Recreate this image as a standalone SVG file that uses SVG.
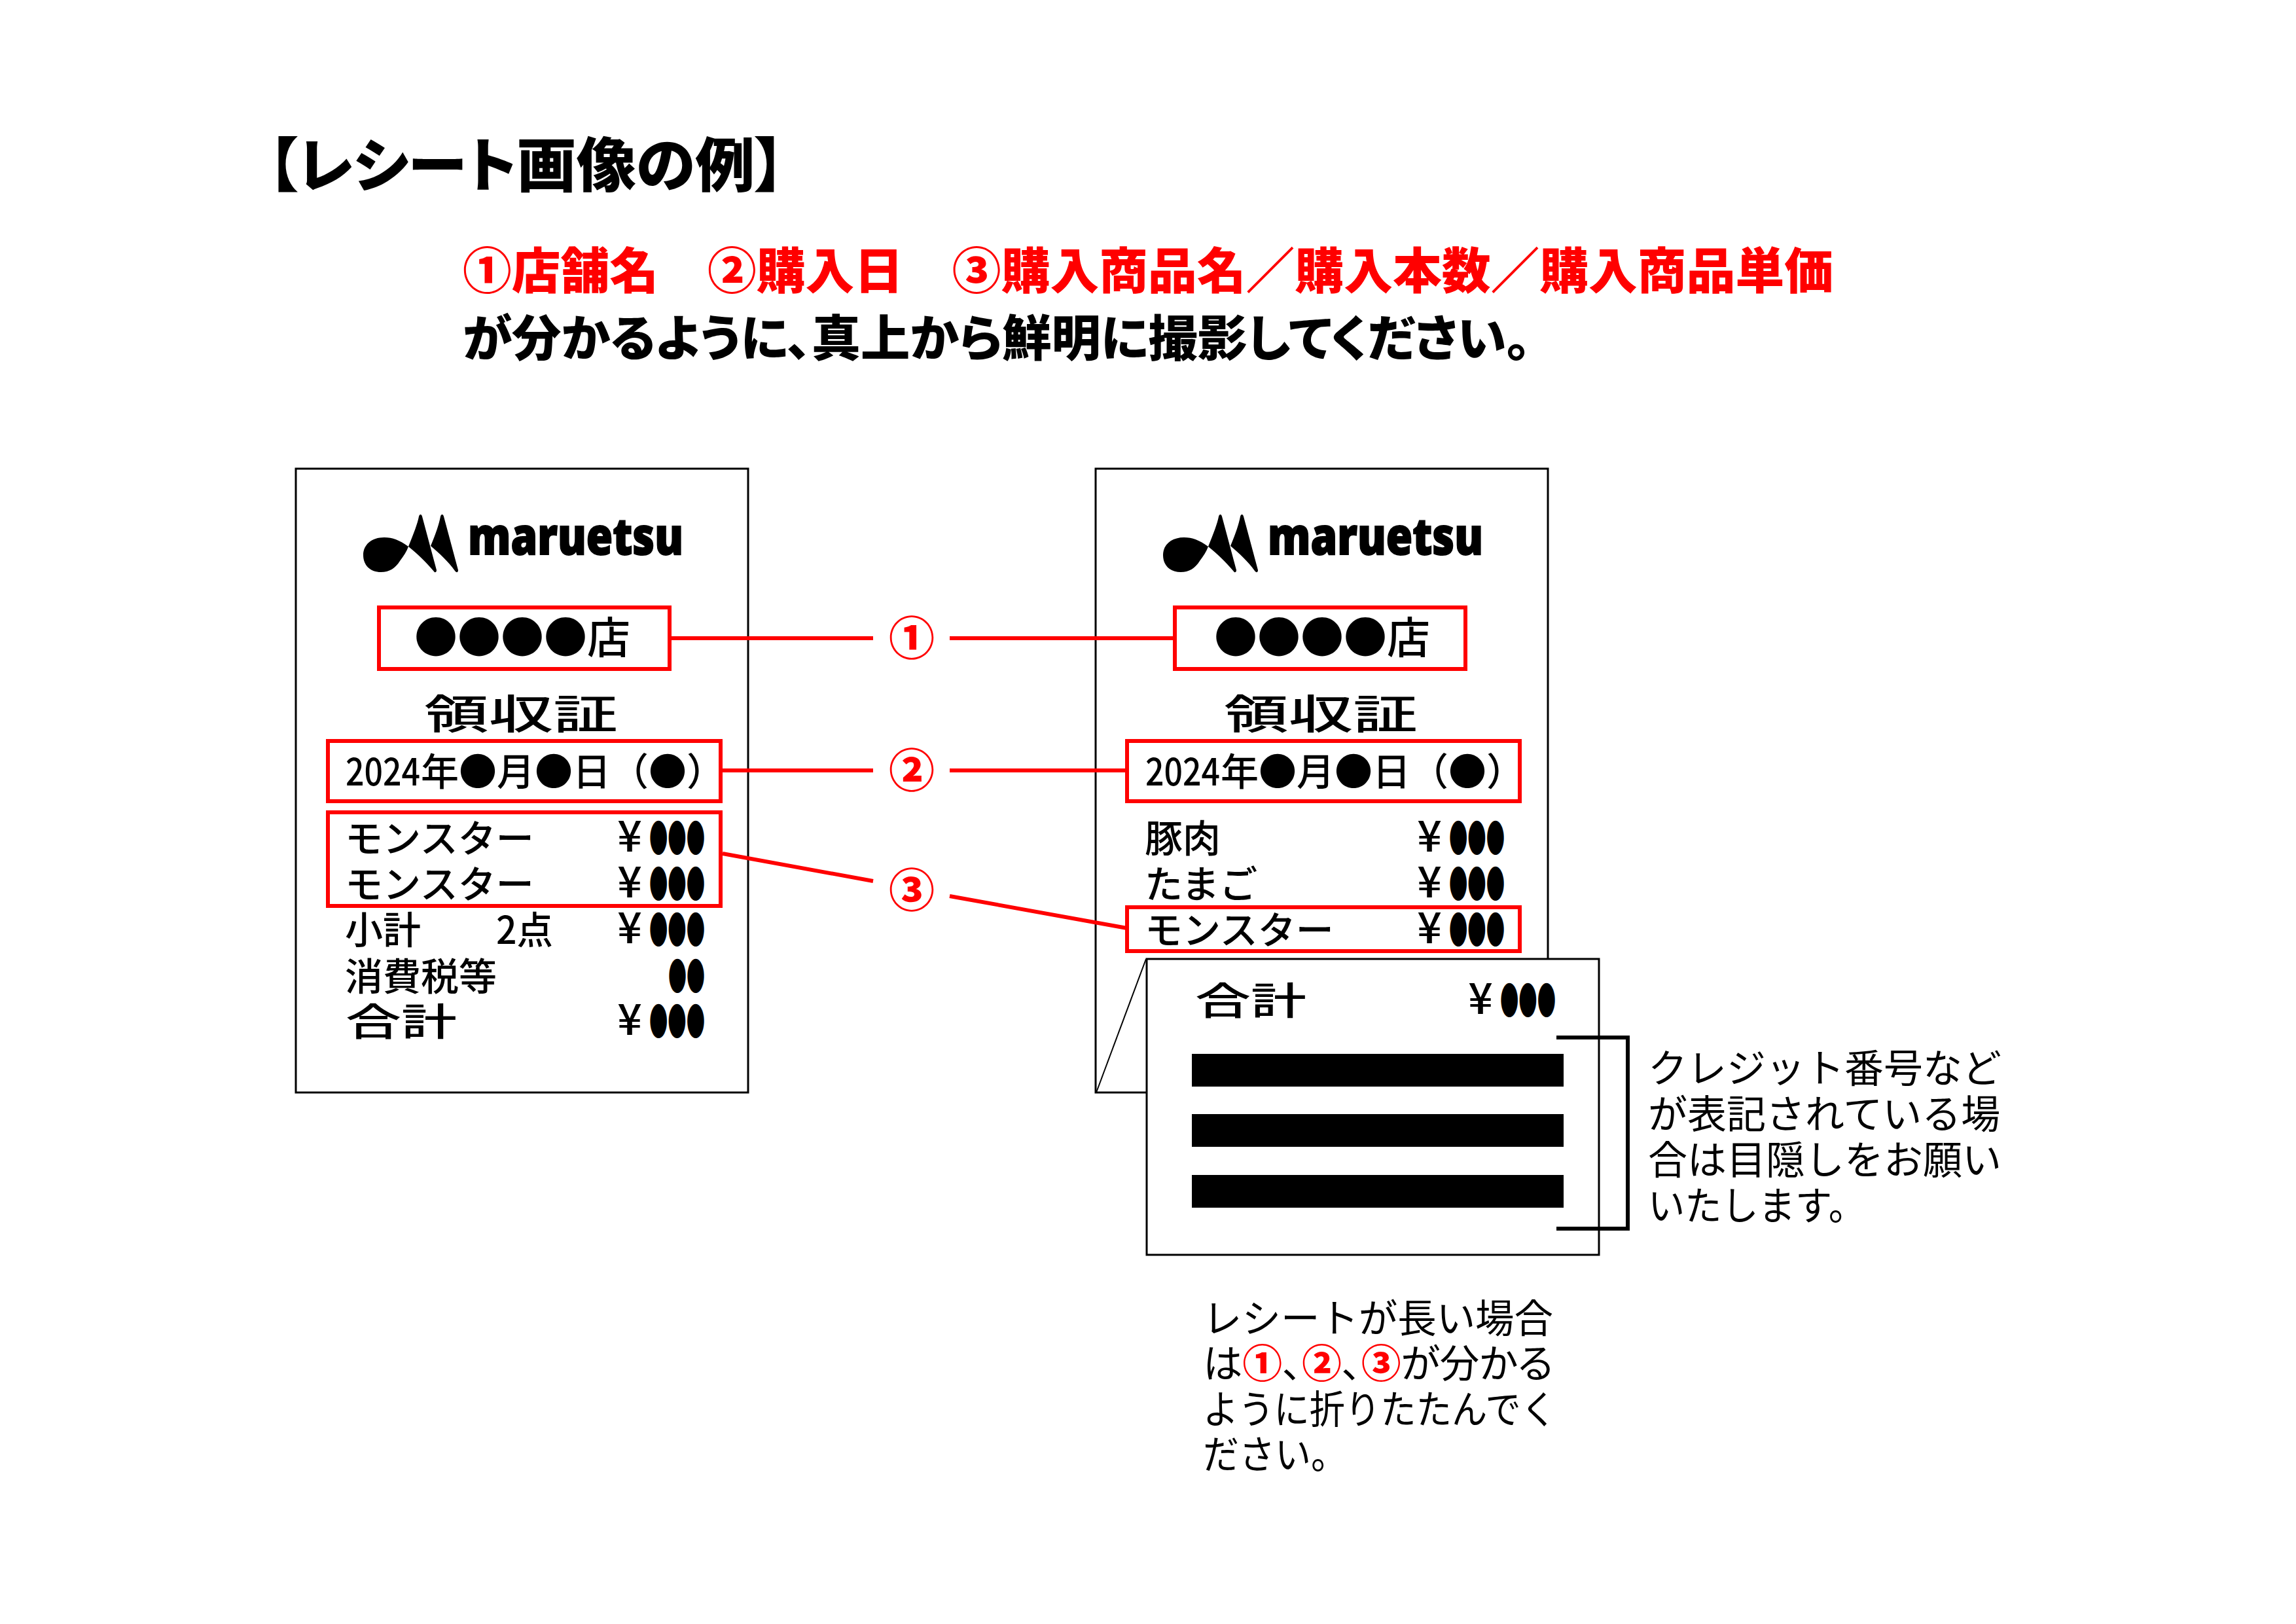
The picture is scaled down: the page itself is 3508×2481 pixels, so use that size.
<svg xmlns="http://www.w3.org/2000/svg" width="3508" height="2481" viewBox="0 0 3508 2481">
<style>
text{font-family:"Noto Sans CJK JP","Noto Sans",sans-serif;fill:#000}
.h{font-weight:900;font-feature-settings:"palt"}
.r{fill:#f00}
.b{font-size:58px;font-weight:500}
.yen{font-size:66px;font-weight:500;text-anchor:middle}
.big{font-size:66px;font-weight:500}
.box{fill:#fff;stroke:#000;stroke-width:3}
.red{fill:none;stroke:#f00;stroke-width:6}
.con{fill:none;stroke:#f00;stroke-width:6}
.num{font-size:70px;font-weight:900;fill:#f00;text-anchor:middle}
.note{font-size:60px}
</style>
<defs>
<g id="price"><text class="yen" x="962" y="-1">¥</text><text class="b" x="992" y="0" textLength="85" lengthAdjust="spacingAndGlyphs">●●●</text></g>
<g id="logo">
<path d="M624 835C610 825 600 821 587 821C568 821 555 832 555 848C555 864 566 874 582 874C595 874 604 868 611 857C617 849 621 843 624 835Z"/>
<path d="M624 835C632 815 638 800 640 789C641 785 644 785 645 789L667 871C667 875 664 875 663 873C650 858 640 848 624 835Z"/>
<path d="M658 834C666 815 671 800 673 789C674 785 677 785 678 789L700 871C700 875 697 875 695 872C685 858 672 846 658 834Z"/>
<text x="715" y="847" font-size="78" font-weight="800" stroke="#000" stroke-width="2" style="font-family:'Open Sans','Noto Sans',sans-serif" textLength="329" lengthAdjust="spacingAndGlyphs">maruetsu</text>
</g>
</defs>
<g id="heading">
<text class="h" x="409" y="285" font-size="90" textLength="790" lengthAdjust="spacingAndGlyphs">【レシート画像の例】</text>
<text class="h r" x="707" y="441" font-size="75" style="font-feature-settings:normal" textLength="2094" lengthAdjust="spacingAndGlyphs">①店舗名　②購入日　③購入商品名／購入本数／購入商品単価</text>
<text class="h" x="707" y="544" font-size="75" textLength="1632" lengthAdjust="spacingAndGlyphs">が分かるように、真上から鮮明に撮影してください。</text>
</g>
<g id="receipt-left">
<rect class="box" x="452" y="716" width="691" height="953"/>
<use href="#logo"/>
<text class="big" x="633" y="998">●●●●店</text>
<text x="648" y="1114" font-size="62" font-weight="500" textLength="296" lengthAdjust="spacingAndGlyphs">領収証</text>
<text class="b" x="528" y="1200" textLength="114" lengthAdjust="spacingAndGlyphs">2024</text>
<text class="b" x="643" y="1200">年●月●日（●）</text>
<text class="b" x="527" y="1302">モンスター</text><use href="#price" y="1302"/>
<text class="b" x="527" y="1372">モンスター</text><use href="#price" y="1372"/>
<text class="b" x="527" y="1442">小計</text><text class="b" x="758" y="1442" textLength="87" lengthAdjust="spacingAndGlyphs">2点</text><use href="#price" y="1442"/>
<text class="b" x="527" y="1513">消費税等</text><text class="b" x="1021" y="1513" textLength="56" lengthAdjust="spacingAndGlyphs">●●</text>
<text class="b" x="528" y="1582" textLength="170" lengthAdjust="spacingAndGlyphs">合計</text><use href="#price" y="1582"/>
<rect class="red" x="579" y="928" width="444" height="94"/>
<rect class="red" x="501" y="1132" width="600" height="92"/>
<rect class="red" x="501" y="1241" width="600" height="143"/>
</g>
<g id="receipt-right">
<rect class="box" x="1674" y="716" width="691" height="953"/>
<use href="#logo" x="1222"/>
<text class="big" x="1855" y="998">●●●●店</text>
<text x="1870" y="1114" font-size="62" font-weight="500" textLength="296" lengthAdjust="spacingAndGlyphs">領収証</text>
<text class="b" x="1750" y="1200" textLength="114" lengthAdjust="spacingAndGlyphs">2024</text>
<text class="b" x="1865" y="1200">年●月●日（●）</text>
<text class="b" x="1749" y="1302">豚肉</text><use href="#price" x="1222" y="1302"/>
<text class="b" x="1749" y="1372">たまご</text><use href="#price" x="1222" y="1372"/>
<text class="b" x="1749" y="1442">モンスター</text><use href="#price" x="1222" y="1442"/>
<rect class="red" x="1795" y="928" width="444" height="94"/>
<rect class="red" x="1722" y="1132" width="600" height="92"/>
<rect class="red" x="1722" y="1386" width="600" height="67"/>
<path d="M1675 1669L1751 1465" fill="none" stroke="#000" stroke-width="2"/>
</g>
<g id="receipt-fold">
<rect class="box" x="1752" y="1465" width="691" height="452"/>
<text class="b" x="1826" y="1550" textLength="170" lengthAdjust="spacingAndGlyphs">合計</text><use href="#price" x="1300" y="1550"/>
<rect x="1821" y="1610" width="568" height="50"/>
<rect x="1821" y="1702" width="568" height="50"/>
<rect x="1821" y="1795" width="568" height="50"/>
<path d="M2378 1585H2487V1877H2378" fill="none" stroke="#000" stroke-width="6"/>
</g>
<g id="connectors">
<path class="con" d="M1023 975H1334M1451 975H1795M1101 1177H1334M1451 1177H1722M1104 1304L1334 1346M1451 1369L1722 1418"/>
</g>
<g id="badges">
<text class="num" x="1393" y="1001">①</text>
<text class="num" x="1393" y="1203">②</text>
<text class="num" x="1393" y="1386">③</text>
</g>
<g id="note-card">
<text class="note" x="2518" y="1654">クレジット番号など</text>
<text class="note" x="2518" y="1724">が表記されている場</text>
<text class="note" x="2518" y="1794">合は目隠しをお願い</text>
<text class="note" x="2518" y="1864" textLength="332" lengthAdjust="spacingAndGlyphs">いたします。</text>
</g>
<g id="note-long">
<text class="note" x="1838" y="2036" textLength="535" lengthAdjust="spacingAndGlyphs">レシートが長い場合</text>
<text class="note" x="1838" y="2105" textLength="535" lengthAdjust="spacingAndGlyphs" style="font-feature-settings:'palt'">は<tspan class="h r">①</tspan>、<tspan class="h r">②</tspan>、<tspan class="h r">③</tspan>が分かる</text>
<text class="note" x="1838" y="2175" textLength="540" lengthAdjust="spacingAndGlyphs">ように折りたたんでく</text>
<text class="note" x="1838" y="2244" textLength="220" lengthAdjust="spacingAndGlyphs">ださい。</text>
</g>
</svg>
